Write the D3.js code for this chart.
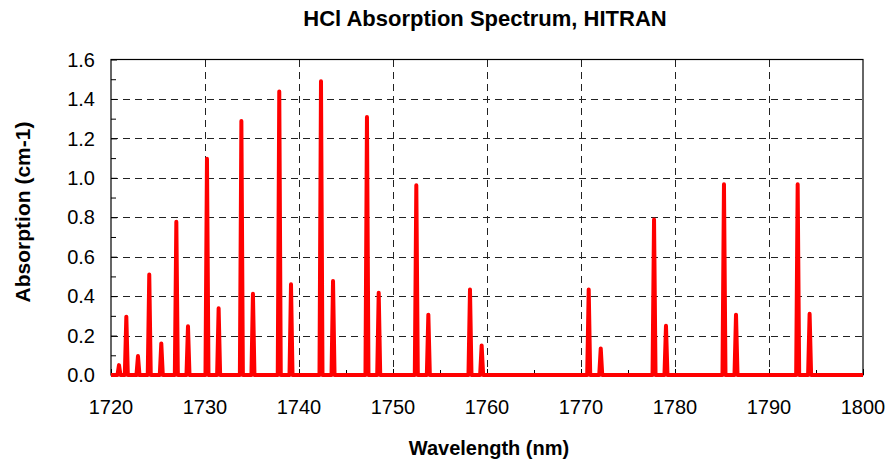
<!DOCTYPE html>
<html>
<head>
<meta charset="utf-8">
<script src="https://cdn.jsdelivr.net/npm/d3@7"></script>
<style>
  html, body { margin: 0; padding: 0; background: #fff; }
  svg { display: block; font-family: "Liberation Sans", Arial, sans-serif; }
</style>
</head>
<body>
<svg id="chart" width="889" height="462"></svg>
<script>
// HCl overtone band lines (wavelength in nm, peak absorption in cm-1)
const peakWavelength = [
  1720.85, 1721.63, 1722.87, 1724.07, 1725.35, 1726.95, 1728.19, 1730.21,
  1731.45, 1733.87, 1735.10, 1737.90, 1739.15, 1742.34, 1743.62, 1747.23,
  1748.48, 1752.48, 1753.76, 1758.19, 1759.43, 1770.82, 1772.10, 1777.77,
  1779.04, 1785.21, 1786.49, 1793.05, 1794.32
];
const peakAbsorption = [
  0.05, 0.296, 0.096, 0.51, 0.16, 0.777, 0.247, 1.097,
  0.338, 1.288, 0.412, 1.438, 0.46, 1.49, 0.477, 1.308,
  0.417, 0.962, 0.306, 0.434, 0.15, 0.433, 0.135, 0.789,
  0.25, 0.967, 0.306, 0.967, 0.311
];
const xTicks = [1720, 1730, 1740, 1750, 1760, 1770, 1780, 1790, 1800];
const yTicks = [0, 0.2, 0.4, 0.6, 0.8, 1.0, 1.2, 1.4, 1.6];
const xMinorTicks = [1725, 1735, 1745, 1755, 1765, 1775, 1785, 1795];
const yMinorTicks = [0.1, 0.3, 0.5, 0.7, 0.9, 1.1, 1.3, 1.5];

const svg = d3.select("#chart");
const margin = { top: 59.5, right: 26, bottom: 87, left: 111 };
const W = 889, H = 462;
const x = d3.scaleLinear().domain([1720, 1800]).range([margin.left, W - margin.right]);
const y = d3.scaleLinear().domain([0, 1.6]).range([H - margin.bottom, margin.top]);

// dashed grid
const grid = svg.append("g").attr("stroke", "#222").attr("stroke-width", 1)
  .attr("stroke-dasharray", "7,5").attr("shape-rendering", "crispEdges");
grid.selectAll("line.h").data(yTicks.slice(1, -1)).join("line")
  .attr("x1", x(1720)).attr("x2", x(1800))
  .attr("y1", d => Math.round(y(d)) + 0.5).attr("y2", d => Math.round(y(d)) + 0.5);
grid.selectAll("line.v").data(xTicks.slice(1, -1)).join("line")
  .attr("y1", y(1.6)).attr("y2", y(0))
  .attr("x1", d => Math.round(x(d)) + 0.5).attr("x2", d => Math.round(x(d)) + 0.5);

// axes with inward ticks
const yAxis = svg.append("g").attr("transform", `translate(${margin.left},0)`)
  .call(d3.axisRight(y).tickValues(yTicks).tickSize(6).tickFormat(""));
const yMinor = svg.append("g").attr("transform", `translate(${margin.left},0)`)
  .call(d3.axisRight(y).tickValues(yMinorTicks).tickSize(5).tickFormat(""));
const xAxis = svg.append("g").attr("transform", `translate(0,${H - margin.bottom})`)
  .call(d3.axisTop(x).tickValues(xTicks).tickSize(6).tickFormat(""));
const xMinor = svg.append("g").attr("transform", `translate(0,${H - margin.bottom})`)
  .call(d3.axisTop(x).tickValues(xMinorTicks).tickSize(5).tickFormat(""));
[yAxis, yMinor, xAxis, xMinor].forEach(g => {
  g.select(".domain").remove();
  g.selectAll("line").attr("stroke", "#000");
});

// plot frame
svg.append("rect")
  .attr("x", x(1720)).attr("y", y(1.6))
  .attr("width", x(1800) - x(1720)).attr("height", y(0) - y(1.6))
  .attr("fill", "none").attr("stroke", "#000").attr("stroke-width", 1.2);

// tick labels
svg.append("g").selectAll("text").data(yTicks).join("text")
  .attr("x", 95).attr("y", d => y(d)).attr("dy", "0.36em")
  .attr("text-anchor", "end").attr("font-size", 20).attr("fill", "#000")
  .text(d => d.toFixed(1));
svg.append("g").selectAll("text").data(xTicks).join("text")
  .attr("x", d => x(d)).attr("y", 414)
  .attr("text-anchor", "middle").attr("font-size", 20).attr("fill", "#000")
  .text(d => d);

// spectrum line: flat baseline with a narrow spike at every line centre
const halfWidth = 0.16;
const spectrum = [[1720, 0]];
peakWavelength.forEach((w, i) => {
  spectrum.push([w - halfWidth, 0], [w, peakAbsorption[i]], [w + halfWidth, 0]);
});
spectrum.push([1800, 0]);
const line = d3.line().x(d => x(d[0])).y(d => y(d[1]));
svg.append("path").datum(spectrum)
  .attr("d", line)
  .attr("fill", "none").attr("stroke", "#ff0000").attr("stroke-width", 4)
  .attr("stroke-linejoin", "round").attr("stroke-linecap", "butt");

// titles
svg.append("text").attr("x", 485).attr("y", 26)
  .attr("text-anchor", "middle").attr("font-size", 22).attr("font-weight", "bold")
  .text("HCl Absorption Spectrum, HITRAN");
svg.append("text").attr("x", 489).attr("y", 455)
  .attr("text-anchor", "middle").attr("font-size", 20).attr("font-weight", "bold")
  .text("Wavelength (nm)");
svg.append("text")
  .attr("transform", `translate(30,${212}) rotate(-90)`)
  .attr("text-anchor", "middle").attr("font-size", 21).attr("font-weight", "bold")
  .text("Absorption (cm-1)");
</script>
</body>
</html>
